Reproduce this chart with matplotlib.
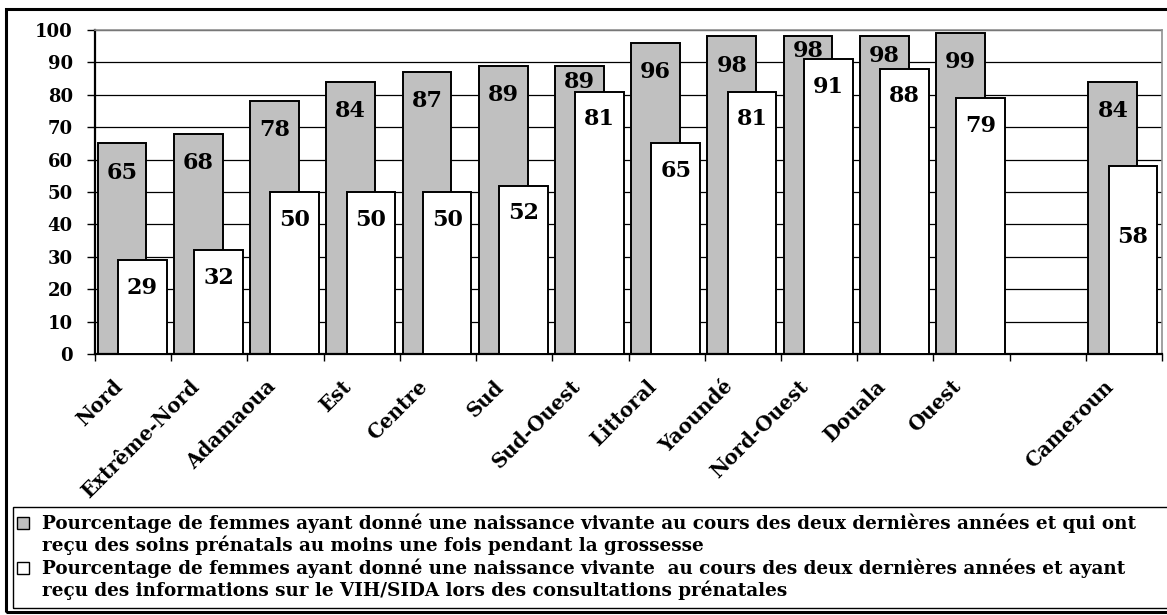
import numpy as np
import matplotlib.pyplot as plt
from matplotlib.patches import Rectangle

regions = ['Nord', 'Extrême-Nord', 'Adamaoua', 'Est', 'Centre', 'Sud', 'Sud-Ouest',
           'Littoral', 'Yaoundé', 'Nord-Ouest', 'Douala', 'Ouest', '', 'Cameroun']
soins = [65, 68, 78, 84, 87, 89, 89, 96, 98, 98, 98, 99, None, 84]
info_vih = [29, 32, 50, 50, 50, 52, 81, 65, 81, 91, 88, 79, None, 58]
yticks = list(range(0, 101, 10))

legend_lines = [
    'Pourcentage de femmes ayant donné une naissance vivante au cours des deux dernières années et qui ont',
    'reçu des soins prénatals au moins une fois pendant la grossesse',
    'Pourcentage de femmes ayant donné une naissance vivante  au cours des deux dernières années et ayant',
    'reçu des informations sur le VIH/SIDA lors des consultations prénatales',
]

W, H = 1167, 615
GRAY = '#c0c0c0'
FONT = 'DejaVu Serif'

fig = plt.figure(figsize=(W / 100, H / 100), dpi=100)
ax = fig.add_axes([95 / W, 1 - 354 / H, (1162 - 95) / W, (354 - 30) / H])

x = np.arange(len(regions))
bw = 0.64
for i in x:
    g, w = soins[i], info_vih[i]
    if g is None:
        continue
    ax.bar(i - 0.145, g, bw, color=GRAY, edgecolor='black', linewidth=1.4, zorder=2)
    ax.bar(i + 0.12, w, bw, color='white', edgecolor='black', linewidth=1.4, zorder=4)
    # gray label centred in the visible part of the gray bar
    off = min(9, (g - w) / 2 + 1)
    ax.text(i - 0.145, g - off, str(g), ha='center', va='center', fontsize=16,
            fontweight='bold', family=FONT, zorder=3)
    woff = 22 if regions[i] == 'Cameroun' else 8.5
    ax.text(i + 0.12, w - woff, str(w), ha='center', va='center', fontsize=16,
            fontweight='bold', family=FONT, zorder=5)

ax.set_xlim(-0.5, len(regions) - 0.5)
ax.set_ylim(0, 100)
ax.set_yticks(yticks)
ax.set_yticklabels([str(v) for v in yticks], fontsize=13, fontweight='bold', family=FONT)
ax.tick_params(axis='y', direction='out', length=6, width=1, pad=10)
ax.yaxis.grid(True, color='black', linewidth=0.9, zorder=0)
ax.set_axisbelow(True)

ax.set_xticks(x - 0.27)
ax.set_xticklabels(regions, rotation=45, ha='right', rotation_mode='anchor',
                   fontsize=14.3, fontweight='bold', family=FONT)
ax.tick_params(axis='x', which='major', length=0, pad=16)
ax.set_xticks(np.arange(len(regions) + 1) - 0.5, minor=True)
ax.tick_params(axis='x', which='minor', direction='out', length=5, width=1)

for s in ['left', 'bottom']:
    ax.spines[s].set_color('black')
    ax.spines[s].set_linewidth(1.6)
for s in ['top', 'right']:
    ax.spines[s].set_color('#909090')
    ax.spines[s].set_linewidth(1.2)

# outer frame and legend box
fig.patches.append(Rectangle((6 / W, 1 - 612 / H), 1.02, (612 - 9) / H, transform=fig.transFigure,
                             fill=False, edgecolor='black', linewidth=2.2))
fig.patches.append(Rectangle((13 / W, 1 - 608 / H), 1.02, (608 - 507) / H, transform=fig.transFigure,
                             fill=False, edgecolor='black', linewidth=1.0))

line_y = [523, 545, 568, 590]
for txt, yy in zip(legend_lines, line_y):
    fig.text(42 / W, 1 - yy / H, txt, ha='left', va='center', fontsize=13.2,
             fontweight='bold', family=FONT)
for col, yy in [(GRAY, line_y[0]), ('white', line_y[2])]:
    fig.patches.append(Rectangle((17 / W, 1 - (yy + 6) / H), 12 / W, 12 / H, transform=fig.transFigure,
                                 facecolor=col, edgecolor='black', linewidth=1.0))

fig.savefig('out.png', dpi=100)
